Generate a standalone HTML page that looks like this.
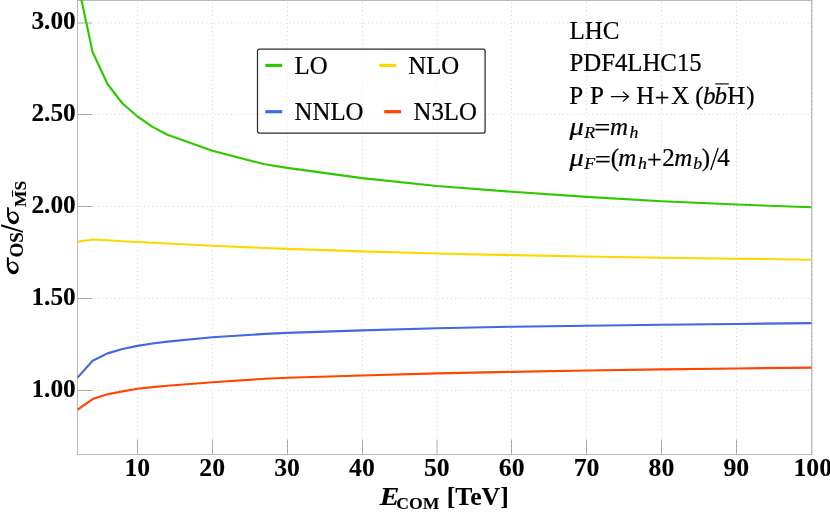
<!DOCTYPE html>
<html><head><meta charset="utf-8"><title>chart</title>
<style>
html,body{margin:0;padding:0;background:#fff;}
body{width:830px;height:512px;overflow:hidden;font-family:"Liberation Serif",serif;}
svg{display:block;will-change:transform;}
text{font-family:"Liberation Serif",serif;fill:#000;stroke:#000;stroke-width:0.22px;}
.b{stroke-width:0.1px;}
.b{font-weight:bold;}
.i{font-style:italic;}
</style></head><body>
<svg width="830" height="512" viewBox="0 0 830 512">
<rect x="0" y="0" width="830" height="512" fill="#fff"/>
<defs><clipPath id="cp"><rect x="77.0" y="0" width="735.2" height="454.5"/></clipPath></defs>

<g stroke="#b2b2b2" stroke-width="1">
<line x1="77.5" y1="23.0" x2="92.3" y2="23.0"/>
<line x1="77.5" y1="114.5" x2="92.3" y2="114.5"/>
<line x1="77.5" y1="206.5" x2="92.3" y2="206.5"/>
<line x1="77.5" y1="298.5" x2="92.3" y2="298.5"/>
<line x1="77.5" y1="390.5" x2="92.3" y2="390.5"/>
<line x1="137.50" y1="454.5" x2="137.50" y2="439.6"/>
<line x1="212.50" y1="454.5" x2="212.50" y2="439.6"/>
<line x1="287.50" y1="454.5" x2="287.50" y2="439.6"/>
<line x1="362.50" y1="454.5" x2="362.50" y2="439.6"/>
<line x1="437.00" y1="454.5" x2="437.00" y2="439.6"/>
<line x1="511.50" y1="454.5" x2="511.50" y2="439.6"/>
<line x1="586.50" y1="454.5" x2="586.50" y2="439.6"/>
<line x1="661.50" y1="454.5" x2="661.50" y2="439.6"/>
<line x1="736.50" y1="454.5" x2="736.50" y2="439.6"/>
</g>
<g stroke="#bababa" stroke-width="1" fill="none"><line x1="77.5" y1="0" x2="77.5" y2="455.0"/><line x1="77.0" y1="454.5" x2="812.4" y2="454.5"/><line x1="77.5" y1="0.4" x2="812.4" y2="0.4" stroke-width="0.9" stroke="#a8a8a8"/><line x1="811.8" y1="0" x2="811.8" y2="454.5" stroke="#b4b4b4" stroke-width="1.2"/></g>
<g stroke="#000" stroke-opacity="0.16" stroke-width="1" fill="none">
<line x1="137.50" y1="0" x2="137.50" y2="454.5" stroke-dasharray="1 3.065" stroke-dashoffset="1.41"/>
<line x1="212.50" y1="0" x2="212.50" y2="454.5" stroke-dasharray="1 3.065" stroke-dashoffset="1.41"/>
<line x1="287.50" y1="0" x2="287.50" y2="454.5" stroke-dasharray="1 3.065" stroke-dashoffset="1.41"/>
<line x1="362.50" y1="0" x2="362.50" y2="454.5" stroke-dasharray="1 3.065" stroke-dashoffset="1.41"/>
<line x1="437.00" y1="0" x2="437.00" y2="454.5" stroke-dasharray="1 3.065" stroke-dashoffset="1.41"/>
<line x1="511.50" y1="0" x2="511.50" y2="454.5" stroke-dasharray="1 3.065" stroke-dashoffset="1.41"/>
<line x1="586.50" y1="0" x2="586.50" y2="454.5" stroke-dasharray="1 3.065" stroke-dashoffset="1.41"/>
<line x1="661.50" y1="0" x2="661.50" y2="454.5" stroke-dasharray="1 3.065" stroke-dashoffset="1.41"/>
<line x1="736.50" y1="0" x2="736.50" y2="454.5" stroke-dasharray="1 3.065" stroke-dashoffset="1.41"/>
<line x1="811.50" y1="0" x2="811.50" y2="454.5" stroke-dasharray="1 3.065" stroke-dashoffset="1.41"/>
<line x1="77.5" y1="23.0" x2="811.8" y2="23.0" stroke-dasharray="1 3.15" stroke-dashoffset="0"/>
<line x1="77.5" y1="114.5" x2="811.8" y2="114.5" stroke-dasharray="1 3.15" stroke-dashoffset="0"/>
<line x1="77.5" y1="206.5" x2="811.8" y2="206.5" stroke-dasharray="1 3.15" stroke-dashoffset="0"/>
<line x1="77.5" y1="298.5" x2="811.8" y2="298.5" stroke-dasharray="1 3.15" stroke-dashoffset="0"/>
<line x1="77.5" y1="390.5" x2="811.8" y2="390.5" stroke-dasharray="1 3.15" stroke-dashoffset="0"/>
</g>
<g fill="none" stroke-width="2.15" stroke-linejoin="round" clip-path="url(#cp)">
<path d="M77.6,-18.0 L92.6,52.0 L107.5,84.0 L122.5,103.5 L137.5,116.5 L152.5,126.9 L167.4,134.7 L212.4,150.7 L264.8,164.3 L287.2,167.9 L362.1,178.1 L437.0,186.0 L511.9,191.8 L586.8,196.9 L661.6,201.2 L736.5,204.5 L811.4,207.3" stroke="#30c800"/>
<path d="M77.6,241.7 L92.6,239.5 L107.5,240.3 L122.5,241.2 L137.5,242.0 L152.5,242.8 L167.4,243.5 L212.4,245.7 L264.8,248.0 L287.2,248.9 L362.1,251.4 L437.0,253.5 L511.9,255.1 L586.8,256.5 L661.6,257.7 L736.5,258.7 L811.4,259.7" stroke="#ffd700"/>
<path d="M77.6,377.6 L92.6,360.8 L107.5,353.4 L122.5,349.0 L137.5,345.9 L152.5,343.5 L167.4,341.6 L212.4,337.2 L264.8,333.9 L287.2,332.9 L362.1,330.4 L437.0,328.2 L511.9,326.7 L586.8,325.7 L661.6,324.8 L736.5,324.0 L811.4,323.1" stroke="#4169e1"/>
<path d="M77.6,409.6 L92.6,399.1 L107.5,394.3 L122.5,391.4 L137.5,388.8 L152.5,387.1 L167.4,385.7 L212.4,382.3 L264.8,378.8 L287.2,377.7 L362.1,375.5 L437.0,373.4 L511.9,371.9 L586.8,370.5 L661.6,369.4 L736.5,368.5 L811.4,367.6" stroke="#ff4500"/>
</g>
<text transform="translate(75.80 29.00) scale(1.035 1)" font-size="24.5" class="b" text-anchor="end">3.00</text>
<text transform="translate(75.80 120.50) scale(1.035 1)" font-size="24.5" class="b" text-anchor="end">2.50</text>
<text transform="translate(75.80 212.50) scale(1.035 1)" font-size="24.5" class="b" text-anchor="end">2.00</text>
<text transform="translate(75.80 304.50) scale(1.035 1)" font-size="24.5" class="b" text-anchor="end">1.50</text>
<text transform="translate(75.80 396.50) scale(1.035 1)" font-size="24.5" class="b" text-anchor="end">1.00</text>
<text transform="translate(137.30 476.20) scale(1.05 1)" font-size="24.5" class="b" text-anchor="middle">10</text>
<text transform="translate(212.18 476.20) scale(1.05 1)" font-size="24.5" class="b" text-anchor="middle">20</text>
<text transform="translate(287.05 476.20) scale(1.05 1)" font-size="24.5" class="b" text-anchor="middle">30</text>
<text transform="translate(361.93 476.20) scale(1.05 1)" font-size="24.5" class="b" text-anchor="middle">40</text>
<text transform="translate(436.80 476.20) scale(1.05 1)" font-size="24.5" class="b" text-anchor="middle">50</text>
<text transform="translate(511.68 476.20) scale(1.05 1)" font-size="24.5" class="b" text-anchor="middle">60</text>
<text transform="translate(586.55 476.20) scale(1.05 1)" font-size="24.5" class="b" text-anchor="middle">70</text>
<text transform="translate(661.42 476.20) scale(1.05 1)" font-size="24.5" class="b" text-anchor="middle">80</text>
<text transform="translate(736.30 476.20) scale(1.05 1)" font-size="24.5" class="b" text-anchor="middle">90</text>
<text transform="translate(812.77 476.20) scale(1.05 1)" font-size="24.5" class="b" text-anchor="middle">100</text>
<text transform="translate(569.27 103.90) scale(1.03 1)" font-size="24.3">P</text>
<text transform="translate(589.97 103.90) scale(1.03 1)" font-size="24.3">P</text>
<text transform="translate(636.27 103.90) scale(1.03 1)" font-size="24.3">H</text>
<text transform="translate(654.83 105.50) scale(1.07 1)" font-size="24.3">+</text>
<text transform="translate(671.20 103.90) scale(1.03 1)" font-size="24.3">X</text>
<text transform="translate(695.27 103.90) scale(1.03 1)" font-size="24.3">(</text>
<text transform="translate(702.97 103.90) scale(1.03 1)" font-size="24.3" class="i">b</text>
<text transform="translate(714.57 103.90) scale(1.03 1)" font-size="24.3" class="i">b</text>
<text transform="translate(727.37 103.90) scale(1.03 1)" font-size="24.3">H</text>
<text transform="translate(746.37 103.90) scale(1.03 1)" font-size="24.3">)</text>
<text transform="translate(569.40 134.60) scale(1.17 1)" font-size="24.3" class="i">μ</text>
<text transform="translate(584.30 137.80) scale(1.03 1)" font-size="17.3" class="i">R</text>
<text transform="translate(594.32 136.20) scale(1.18 1)" font-size="24.3">=</text>
<text transform="translate(610.07 134.60) scale(1.03 1)" font-size="24.3" class="i">m</text>
<text transform="translate(629.40 137.80) scale(1.03 1)" font-size="17.3" class="i">h</text>
<text transform="translate(569.40 165.80) scale(1.17 1)" font-size="24.3" class="i">μ</text>
<text transform="translate(584.30 168.90) scale(1.03 1)" font-size="17.3" class="i">F</text>
<text transform="translate(594.72 167.60) scale(1.18 1)" font-size="24.3">=</text>
<text transform="translate(610.77 165.80) scale(1.03 1)" font-size="24.3">(</text>
<text transform="translate(618.17 165.80) scale(1.03 1)" font-size="24.3" class="i">m</text>
<text transform="translate(637.90 168.90) scale(1.03 1)" font-size="17.3" class="i">h</text>
<text transform="translate(646.93 168.00) scale(1.07 1)" font-size="24.3">+</text>
<text transform="translate(662.17 165.80) scale(1.03 1)" font-size="24.3">2</text>
<text transform="translate(674.37 165.80) scale(1.03 1)" font-size="24.3" class="i">m</text>
<text transform="translate(693.27 168.90) scale(1.03 1)" font-size="17.3" class="i">b</text>
<text transform="translate(701.67 165.80) scale(1.03 1)" font-size="24.3">)</text>
<text transform="translate(717.30 165.80) scale(1.03 1)" font-size="24.3">4</text>
<text transform="translate(379.70 505.40) scale(1.2 1)" font-size="24.5" class="b i">E</text>
<text transform="translate(396.26 509.40) scale(1.04 1)" font-size="17" class="b">COM</text>
<text transform="translate(446.80 505.40) scale(1.05 1)" font-size="24.5" class="b">[TeV]</text>
<line x1="715.2" y1="83.9" x2="728.8" y2="83.9" stroke="#333" stroke-width="1.4"/>
<path d="M611.3,96.55 H628.0 M623.3,92.0 L628.5,96.55 L623.3,101.2" stroke="#000" stroke-width="1.15" fill="none" stroke-linecap="round"/>
<line x1="710.8" y1="170.0" x2="718.2" y2="147.9" stroke="#000" stroke-width="1.3"/>
<defs><g id="sig"><ellipse cx="6.1" cy="-6.0" rx="6.4" ry="5.6" transform="rotate(-20 6.1 -6.0)" fill="#000"/><ellipse cx="7.2" cy="-6.2" rx="4.15" ry="3.2" transform="rotate(-50 7.2 -6.2)" fill="#fff"/><path d="M6.0,-12.2 L16.9,-12.2 L16.3,-10.2 L9.5,-10.2 Z" fill="#000"/></g></defs>
<g transform="translate(19.1 274.0) rotate(-90)">
<use href="#sig" x="0" y="0"/>
<text transform="translate(16.40 3.80) scale(1.0 1)" font-size="19" class="b">OS</text>
<use href="#sig" x="50.0" y="0.2"/>
<text transform="translate(67.00 6.80) scale(1.0 1)" font-size="17.5" class="b">MS</text>
<line x1="77.3" y1="-6.6" x2="83.7" y2="-6.6" stroke="#000" stroke-width="1.1"/>
</g>
<polygon points="1.2,224.3 1.2,226.5 23.0,232.8 23.0,230.9" fill="#000"/>
<rect x="257.5" y="49.1" width="227.6" height="84.0" rx="2" ry="2" fill="#fff" fill-opacity="0.4" stroke="#2a2a2a" stroke-width="1.25"/>
<g stroke-width="3.2" fill="none">
<line x1="265.3" y1="65.4" x2="282.2" y2="65.4" stroke="#30c800"/>
<line x1="379.3" y1="65.4" x2="396.2" y2="65.4" stroke="#ffd700"/>
<line x1="265.3" y1="111.7" x2="282.2" y2="111.7" stroke="#4169e1"/>
<line x1="384.2" y1="111.7" x2="401.1" y2="111.7" stroke="#ff4500"/>
</g>
<text transform="translate(294.60 74.00) scale(1.025 1)" font-size="24.2">LO</text>
<text transform="translate(408.30 74.00) scale(1.025 1)" font-size="24.2">NLO</text>
<text transform="translate(294.60 120.20) scale(1.025 1)" font-size="24.2">NNLO</text>
<text transform="translate(413.50 120.20) scale(1.025 1)" font-size="24.2">N3LO</text>
<text transform="translate(569.50 38.90) scale(1.03 1)" font-size="24.3">LHC</text>
<text transform="translate(569.50 70.80) scale(1.02 1)" font-size="24.3">PDF4LHC15</text>
</svg></body></html>
